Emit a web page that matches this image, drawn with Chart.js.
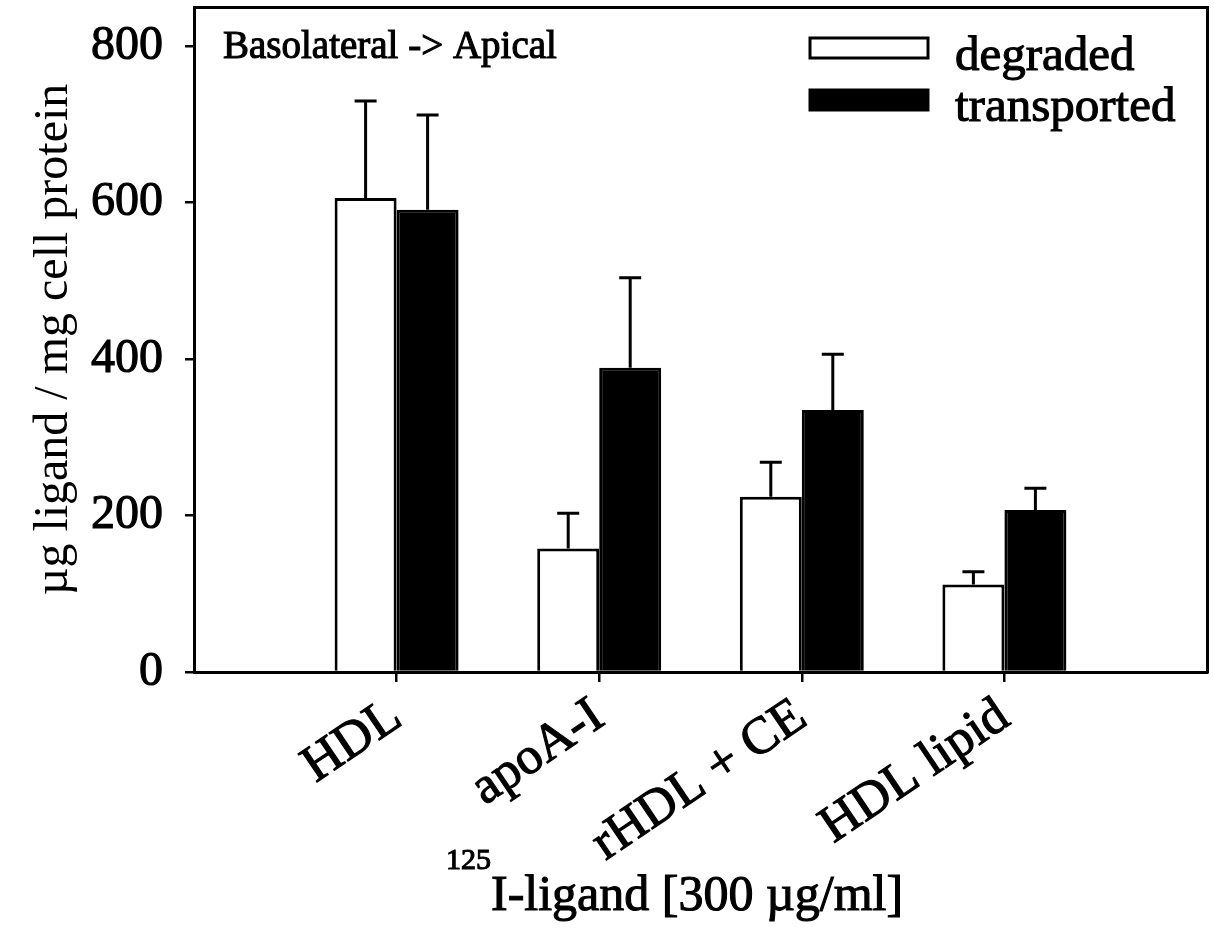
<!DOCTYPE html>
<html>
<head>
<meta charset="utf-8">
<title>HDL ligand transport</title>
<script src="https://cdn.jsdelivr.net/npm/chart.js@4.4.1/dist/chart.umd.min.js"></script>
<style>
  body { margin: 0; background: #fff; }
  #wrap { width: 1214px; height: 936px; }
</style>
</head>
<body>
<div id="wrap"><canvas id="transportChart" width="1214" height="936"></canvas></div>
<script>
// empty slots at both ends leave room left of HDL and right of HDL lipid
const categories = ['', 'HDL', 'apoA-I', 'rHDL + CE', 'HDL lipid', ''];
const degraded = [null, 606, 158, 224, 112, null];
const degradedErr = [null, 124, 45, 44, 16, null];
const transported = [null, 591, 389, 335, 207, null];
const transportedErr = [null, 121, 115, 71, 28, null];
const yTicks = [0, 200, 400, 600, 800];
const yMax = 850; // frame runs a little above the last tick

const serif = '"Liberation Serif", "Times New Roman", serif';
const ink = 1.1; // extra stroke so the serif text reads as heavy as the print

// kill the edge padding Chart.js reserves for end labels
function noPad(scale) {
  scale.paddingTop = 0;
  scale.paddingBottom = 0;
  scale.paddingLeft = 0;
  scale.paddingRight = 0;
}

function heavyText(ctx, text, x, y) {
  ctx.fillText(text, x, y);
  ctx.strokeText(text, x, y);
}

// upward whiskers with a cap, one per bar
const errorBars = {
  id: 'errorBars',
  afterDatasetsDraw(chart) {
    const ctx = chart.ctx;
    const yScale = chart.scales.y;
    ctx.save();
    ctx.strokeStyle = '#000';
    ctx.lineWidth = 3;
    chart.data.datasets.forEach((ds, i) => {
      const meta = chart.getDatasetMeta(i);
      meta.data.forEach((bar, j) => {
        if (ds.data[j] == null || ds.errors[j] == null) return;
        const top = yScale.getPixelForValue(ds.data[j] + ds.errors[j]);
        ctx.beginPath();
        ctx.moveTo(bar.x, bar.y);
        ctx.lineTo(bar.x, top);
        ctx.moveTo(bar.x - 11, top);
        ctx.lineTo(bar.x + 11, top);
        ctx.stroke();
      });
    });
    ctx.restore();
  }
};

// legend block, corner note and the x title with its superscript
const annotations = {
  id: 'annotations',
  afterDraw(chart) {
    const ctx = chart.ctx;
    ctx.save();
    ctx.fillStyle = '#000';
    ctx.strokeStyle = '#000';
    ctx.textBaseline = 'alphabetic';

    ctx.lineWidth = ink;
    ctx.font = '39px ' + serif;
    heavyText(ctx, 'Basolateral -> Apical', 223, 58);

    chart.data.datasets.forEach((ds, i) => {
      const boxY = 38 + i * 52;
      ctx.fillStyle = ds.backgroundColor;
      ctx.fillRect(810, boxY, 118, 20);
      ctx.lineWidth = 3;
      ctx.strokeRect(810, boxY, 118, 20);
      ctx.fillStyle = '#000';
      ctx.lineWidth = ink;
      ctx.font = '49px ' + serif;
      heavyText(ctx, ds.label, 955, 70 + i * 51);
    });

    ctx.font = '30px ' + serif;
    heavyText(ctx, '125', 446, 869);
    const supW = ctx.measureText('125').width;
    ctx.font = '50px ' + serif;
    heavyText(ctx, 'I-ligand [300 \u00b5g/ml]', 446 + supW, 910);
    ctx.restore();
  }
};

const ctx = document.getElementById('transportChart').getContext('2d');
new Chart(ctx, {
  type: 'bar',
  data: {
    labels: categories,
    datasets: [
      {
        label: 'degraded',
        data: degraded,
        errors: degradedErr,
        backgroundColor: '#ffffff',
        borderColor: '#000000',
        borderWidth: 3
      },
      {
        label: 'transported',
        data: transported,
        errors: transportedErr,
        backgroundColor: '#000000',
        borderColor: '#000000',
        borderWidth: 3
      }
    ]
  },
  options: {
    responsive: false,
    animation: false,
    devicePixelRatio: 1,
    categoryPercentage: 0.612,
    barPercentage: 1,
    layout: { padding: { left: 0, top: 7, right: 7, bottom: 0 } },
    plugins: {
      legend: { display: false },
      tooltip: { enabled: false }
    },
    scales: {
      x: {
        offset: false,
        afterFit: (scale) => { scale.height = 936 - 672; noPad(scale); },
        border: { display: true, color: '#000', width: 3 },
        grid: {
          offset: false,
          drawOnChartArea: false,
          drawTicks: true,
          tickLength: 10,
          lineWidth: 2.5,
          color: (c) => (c.index === 0 || c.index === categories.length - 1) ? 'rgba(0,0,0,0)' : '#000'
        },
        ticks: {
          autoSkip: false,
          minRotation: 34,
          maxRotation: 34,
          padding: 4,
          color: '#000',
          textStrokeColor: '#000',
          textStrokeWidth: ink,
          font: { family: serif, size: 52 }
        }
      },
      y: {
        min: 0,
        max: yMax,
        afterBuildTicks: (scale) => { scale.ticks = yTicks.map(v => ({ value: v })); },
        afterFit: (scale) => { scale.width = 194; noPad(scale); },
        border: { display: true, color: '#000', width: 3 },
        grid: {
          drawOnChartArea: false,
          drawTicks: true,
          tickLength: 9,
          lineWidth: 2.5,
          color: '#000'
        },
        ticks: {
          padding: 22,
          color: '#000',
          textStrokeColor: '#000',
          textStrokeWidth: ink,
          font: { family: serif, size: 48 }
        },
        title: {
          display: true,
          text: '\u00b5g ligand / mg cell protein',
          color: '#000',
          padding: { top: 26, bottom: 0 },
          font: { family: serif, size: 48 }
        }
      },
      x2: {
        type: 'linear',
        position: 'top',
        afterFit: (scale) => { scale.height = 0; noPad(scale); },
        border: { display: true, color: '#000', width: 3 },
        grid: { display: false },
        ticks: { display: false }
      },
      y2: {
        type: 'linear',
        position: 'right',
        afterFit: (scale) => { scale.width = 0; noPad(scale); },
        border: { display: true, color: '#000', width: 3 },
        grid: { display: false },
        ticks: { display: false }
      }
    }
  },
  plugins: [errorBars, annotations]
});
</script>
</body>
</html>
